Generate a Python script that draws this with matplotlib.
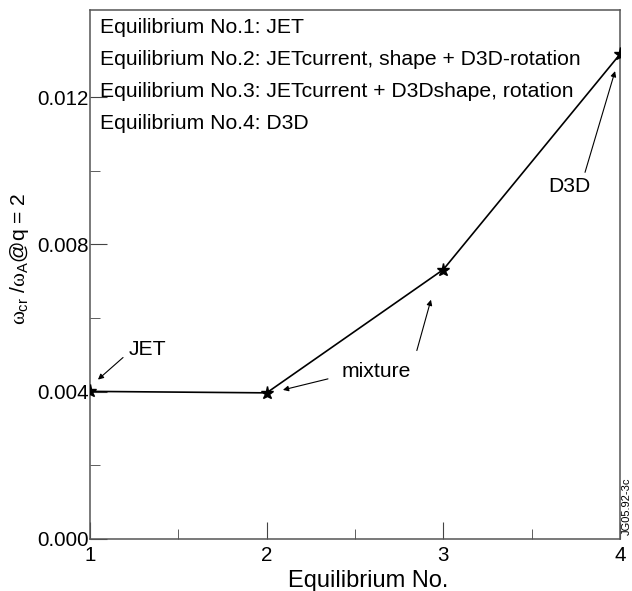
import numpy as np
import matplotlib.pyplot as plt

plt.rcParams['font.family'] = ['Liberation Sans', 'DejaVu Sans']
plt.rcParams['mathtext.fontset'] = 'custom'
plt.rcParams['mathtext.rm'] = 'Liberation Sans'
plt.rcParams['mathtext.it'] = 'Liberation Serif'
plt.rcParams['mathtext.sf'] = 'Liberation Sans'

# data
equilibrium = [1, 2, 3, 4]
omega_cr = [0.00401, 0.00397, 0.00732, 0.01317]
legend_lines = ['Equilibrium No.1: JET',
                'Equilibrium No.2: JETcurrent, shape + D3D-rotation',
                'Equilibrium No.3: JETcurrent + D3Dshape, rotation',
                'Equilibrium No.4: D3D']

# annotation labels: (text, text pos, arrow tail, arrow head)
notes = [('JET', (1.328, 0.00514), (1.187, 0.00493), (1.045, 0.00433)),
         ('mixture', (2.619, 0.00454), (2.347, 0.00435), (2.092, 0.00405)),
         ('', None, (2.85, 0.00512), (2.93, 0.0065)),
         ('D3D', (3.711, 0.00958), (3.802, 0.00996), (3.972, 0.01271))]

fig = plt.figure(figsize=(6.32, 5.91), dpi=100)
ax = fig.add_axes([90/632, 52/591, 530/632, 529/591])

ax.plot(equilibrium, omega_cr, color='black', lw=1.2, marker='*',
        markersize=9.5, zorder=3)

ax.set_xlim(1, 4)
ax.set_ylim(0, 0.01437)
ax.set_xticks([1, 2, 3, 4])
ax.set_xticks([1.5, 2.5, 3.5], minor=True)
ax.set_yticks([0.0, 0.004, 0.008, 0.012])
ax.set_yticklabels(['0.000', '0.004', '0.008', '0.012'], va='center_baseline')
ax.set_yticks([0.002, 0.006, 0.010], minor=True)
ax.tick_params(which='both', direction='in', labelsize=14.8, color='#444444')
ax.tick_params(which='major', length=12)
ax.tick_params(which='minor', length=7)
ax.tick_params(axis='y', pad=1)
ax.tick_params(axis='x', pad=5)
for s in ax.spines.values():
    s.set_color('#555555')
    s.set_linewidth(1.1)

ax.set_xlabel('Equilibrium No.', fontsize=17)
ax.xaxis.set_label_coords(0.525, -0.058)
ax.set_ylabel(r'$\omega_{\mathrm{cr}}$ /$\omega_{\mathrm{A}}$@q = 2', fontsize=15.2)
ax.yaxis.set_label_coords(-0.112, 0.53)

for i, t in enumerate(legend_lines):
    ax.text(0.018, 0.967 - i * 0.0605, t, transform=ax.transAxes,
            fontsize=15.2, va='center', ha='left')

arrow = dict(arrowstyle='-|>', color='black', lw=0.8, mutation_scale=8,
             shrinkA=0, shrinkB=0)
for label, pos, tail, head in notes:
    if label:
        ax.text(pos[0], pos[1], label, fontsize=15.2, ha='center', va='center')
    ax.annotate('', xy=head, xytext=tail, arrowprops=arrow)

fig.text(627/632, 56/591, 'JG05.92-3c', rotation=90, fontsize=8,
         ha='center', va='bottom')

fig.savefig('out.png', dpi=100)
